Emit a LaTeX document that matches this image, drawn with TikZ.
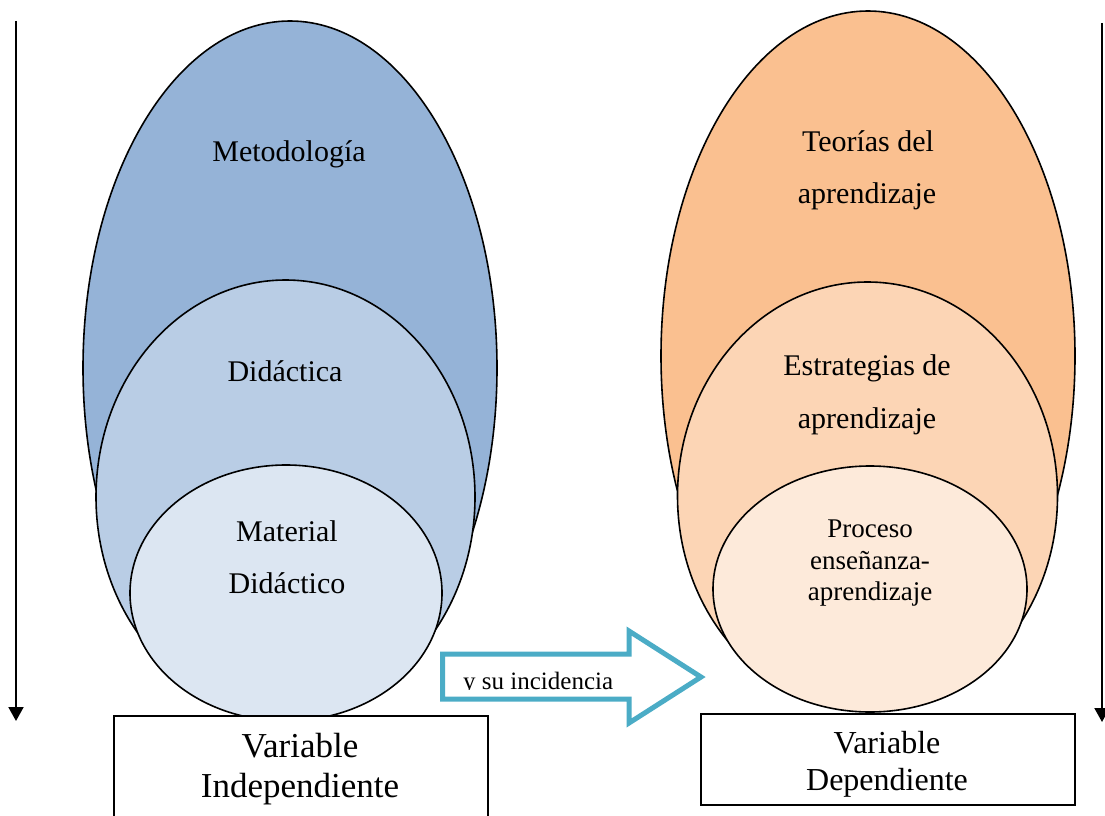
\documentclass[tikz,border=0pt]{standalone}
\usepackage{fontspec}
\setmainfont{Liberation Serif}
\usetikzlibrary{arrows.meta,shapes.geometric}
\definecolor{blueA}{HTML}{95B3D7}
\definecolor{blueB}{HTML}{B9CDE5}
\definecolor{blueC}{HTML}{DCE6F2}
\definecolor{orA}{HTML}{FAC090}
\definecolor{orB}{HTML}{FCD5B5}
\definecolor{orC}{HTML}{FDEADA}
\definecolor{arrowteal}{HTML}{4BACC6}
\begin{document}
\begin{tikzpicture}[x=1pt,y=-1pt,
  oval/.style={ellipse, draw=black, line width=1.6pt, inner sep=0pt},
  lbl/.style={anchor=base, inner sep=0pt, font=\fontsize{30}{36}\selectfont},
  lblsmall/.style={anchor=base, inner sep=0pt, font=\fontsize{27}{32}\selectfont},
  varbox/.style={draw=black, fill=white, line width=1.5pt, anchor=north west, inner sep=0pt},
  varrow/.style={line width=2pt, -{Triangle[length=14pt,width=15pt]}},
  bigarrow/.style={draw=arrowteal, line width=5pt, line join=miter, fill=white}]
\useasboundingbox (0,0) rectangle (1105,816);

% left ellipses
\node[oval, fill=blueA, minimum width=414pt, minimum height=694pt] (lbig) at (290,368) {};
\node[oval, fill=blueB, minimum width=379pt, minimum height=434pt] (lmid) at (285.5,497) {};
\node[oval, fill=blueC, minimum width=312pt, minimum height=256pt] (lsmall) at (286,593) {};

% right ellipses
\node[oval, fill=orA, minimum width=414pt, minimum height=690pt] (rbig) at (868,356) {};
\node[oval, fill=orB, minimum width=380pt, minimum height=428pt] (rmid) at (867.5,496) {};
\node[oval, fill=orC, minimum width=314pt, minimum height=246pt] (rsmall) at (870,589) {};

% boxes
\node[varbox, minimum width=374pt, minimum height=106pt] (lbox) at (113,715) {};
\node[varbox, minimum width=374pt, minimum height=91pt] (rbox) at (700,713) {};

% labels left
\node[lbl] (metodo) at (289,161) {Metodología};
\node[lbl] (didact) at (285,381) {Didáctica};
\node[lbl] (mat1) at (287,541) {Material};
\node[lbl] (mat2) at (287,593) {Didáctico};

% labels right
\node[lbl] (teo1) at (868,151) {Teorías del};
\node[lbl] (teo2) at (867,203) {aprendizaje};
\node[lbl] (est1) at (867,375) {Estrategias de};
\node[lbl] (est2) at (867,428) {aprendizaje};
\node[lblsmall] (pro1) at (870,537) {Proceso};
\node[lblsmall] (pro2) at (870,569) {enseñanza-};
\node[lblsmall] (pro3) at (870,600) {aprendizaje};

% box labels
\node[anchor=base, inner sep=0pt, font=\fontsize{35}{40}\selectfont] (vi1) at (300,757) {Variable};
\node[anchor=base, inner sep=0pt, font=\fontsize{35}{40}\selectfont] (vi2) at (300,797) {Independiente};
\node[anchor=base, inner sep=0pt, font=\fontsize{32}{37}\selectfont] (vd1) at (887,753) {Variable};
\node[anchor=base, inner sep=0pt, font=\fontsize{32}{37}\selectfont] (vd2) at (887,790) {Dependiente};

% teal block arrow
\coordinate (a1) at (442.5,654);
\coordinate (a2) at (629,654);
\coordinate (a3) at (629,631);
\coordinate (a4) at (701,677);
\coordinate (a5) at (629,723);
\coordinate (a6) at (629,699);
\coordinate (a7) at (442.5,699);
\draw[bigarrow] (a1) -- (a2) -- (a3) -- (a4) -- (a5) -- (a6) -- (a7) -- cycle;
\begin{scope}
  \clip (446,660) rectangle (625,689.5);
  \node[anchor=base west, inner sep=0pt, font=\fontsize{25}{30}\selectfont] (inc) at (463,689) {y su incidencia};
\end{scope}

% vertical arrows
\coordinate (l1) at (16,21);
\coordinate (l2) at (16,721);
\coordinate (r1) at (1102,23);
\coordinate (r2) at (1102,722);
\draw[varrow] (l1) -- (l2);
\draw[varrow] (r1) -- (r2);
\end{tikzpicture}
\end{document}
